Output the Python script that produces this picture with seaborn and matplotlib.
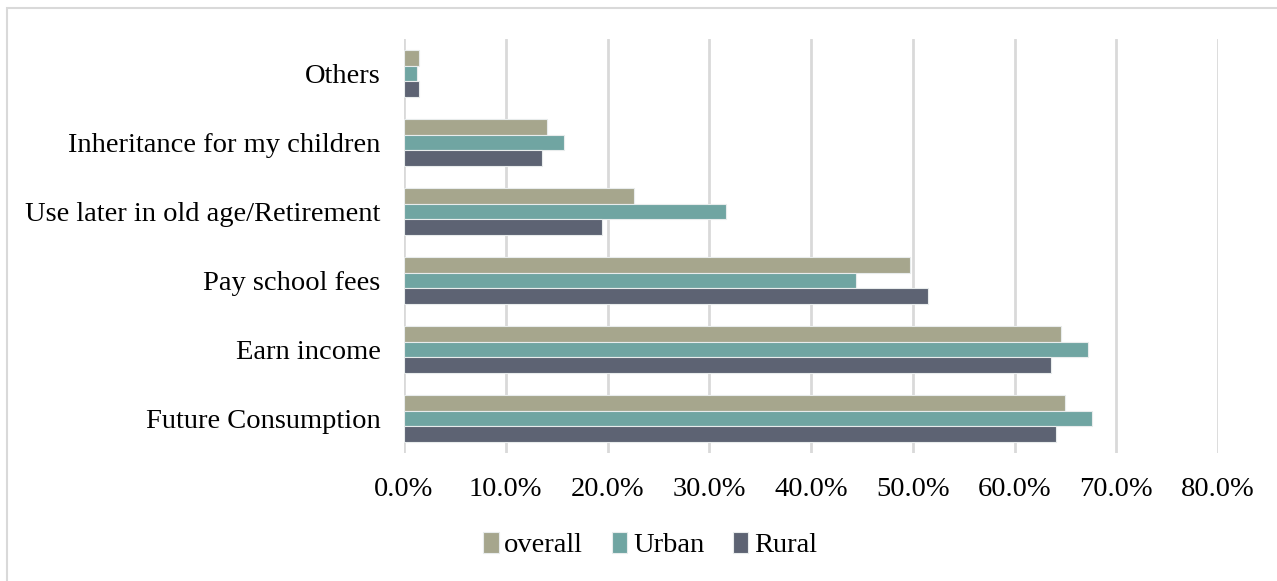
import matplotlib
matplotlib.use("Agg")
import matplotlib.pyplot as plt
import seaborn as sns
import pandas as pd
from matplotlib.patches import Rectangle
from matplotlib.ticker import FuncFormatter

categories = ["Others", "Inheritance for my children", "Use later in old age/Retirement",
              "Pay school fees", "Earn income", "Future Consumption"]
overall = [1.45, 14.1, 22.6, 49.7, 64.6, 65.0]
urban = [1.25, 15.7, 31.6, 44.4, 67.2, 67.6]
rural = [1.47, 13.6, 19.5, 51.5, 63.6, 64.1]
series_names = ["overall", "Urban", "Rural"]
colors = ["#A6A68D", "#70A5A2", "#5D6373"]

rows = []
for name, vals in zip(series_names, [overall, urban, rural]):
    for c, v in zip(categories, vals):
        rows.append({"category": c, "series": name, "value": v / 100})
df = pd.DataFrame(rows)

sns.set_theme(style="white")
plt.rcParams["font.family"] = ["Liberation Serif", "DejaVu Serif"]
plt.rcParams["text.color"] = "black"

fig = plt.figure(figsize=(12.77, 5.81), dpi=100)
ax = fig.add_axes([404 / 1277, 1 - 453 / 581, (1218 - 404) / 1277, (453 - 39) / 581])

sns.barplot(data=df, x="value", y="category", hue="series", order=categories,
            hue_order=series_names, palette=colors, orient="h", width=0.68,
            edgecolor="#E8ECEC", linewidth=0.8, ax=ax, legend=True, saturation=1)

ax.set_xlim(0, 0.8)
ax.set_xticks([i / 10 for i in range(9)])
ax.xaxis.set_major_formatter(FuncFormatter(lambda v, p: f"{v*100:.1f}%"))
ax.grid(axis="x", color="#D9D9D9", linewidth=2)
ax.set_axisbelow(True)
for s in ax.spines.values():
    s.set_visible(False)
ax.set_xlabel("")
ax.set_ylabel("")
ax.tick_params(axis="y", length=0, pad=17, labelsize=20.5, labelcolor="black")
ax.tick_params(axis="x", length=0, pad=17, labelsize=20.5, labelcolor="black")

handles, labels = ax.get_legend_handles_labels()
ax.get_legend().remove()
leg = fig.legend(handles, labels, loc="center", bbox_to_anchor=(650 / 1277, 1 - 545 / 581),
                 ncol=3, frameon=False, fontsize=20.5, handlelength=0.55, handleheight=0.8,
                 handletextpad=0.2, columnspacing=1.0)
for t in leg.get_texts():
    t.set_color("black")

fig.patches.append(Rectangle((7 / 1277, -0.1), 1.2, 1 - 8 / 581 + 0.1, transform=fig.transFigure,
                             fill=False, edgecolor="#D9D9D9", linewidth=1.5))

fig.savefig("out.png", dpi=100)
